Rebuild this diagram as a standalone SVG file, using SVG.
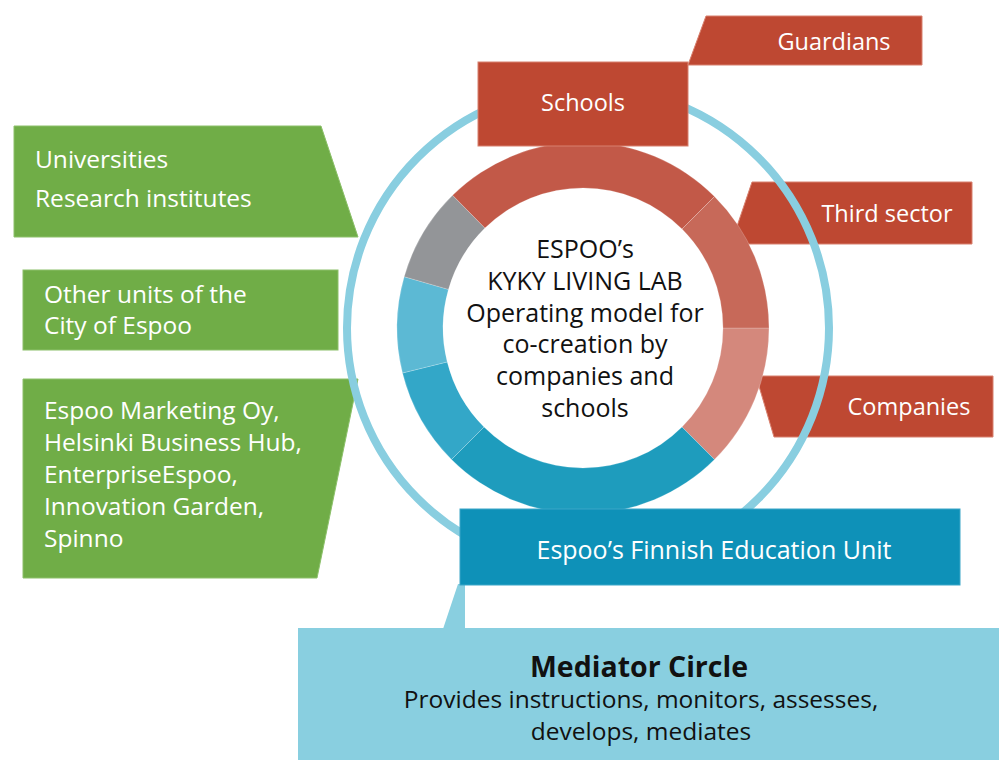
<svg xmlns="http://www.w3.org/2000/svg" width="999" height="760" viewBox="0 0 999 760">
  <style>
    .green { fill: #70AD47; stroke: #8CC06A; stroke-width: 1; }
    .red { fill: #BE4832; stroke: #D8806E; stroke-width: 1; }
    .lbl { font-family: "Open Sans", "Liberation Sans", sans-serif; fill: #ffffff; }
    .gl { font-size: 24.5px; }
    .rl { font-size: 23.5px; text-anchor: middle; }
    .ct { font-family: "Open Sans", "Liberation Sans", sans-serif; font-size: 25px; fill: #111111; text-anchor: middle; }
    .med { font-family: "Open Sans", "Liberation Sans", sans-serif; fill: #111111; text-anchor: middle; }
    .seg { stroke: #ffffff; stroke-opacity: 0.25; stroke-width: 0.8; }
  </style>
  <rect x="0" y="0" width="999" height="760" fill="#ffffff"/>

  <g id="universities">
    <polygon class="green" points="14,126 321,126 358,237 14,237"/>
    <text class="lbl gl" x="35" y="168">Universities</text>
    <text class="lbl gl" x="35" y="207">Research institutes</text>
  </g>
  <g id="other-units">
    <rect class="green" x="23" y="270" width="315" height="80"/>
    <text class="lbl gl" x="44" y="303">Other units of the</text>
    <text class="lbl gl" x="44" y="334">City of Espoo</text>
  </g>
  <g id="business">
    <polygon class="green" points="23,379 358,379 317,578 23,578"/>
    <text class="lbl gl" x="44" y="419">Espoo Marketing Oy,</text>
    <text class="lbl gl" x="44" y="451">Helsinki Business Hub,</text>
    <text class="lbl gl" x="44" y="483">EnterpriseEspoo,</text>
    <text class="lbl gl" x="44" y="515">Innovation Garden,</text>
    <text class="lbl gl" x="44" y="547">Spinno</text>
  </g>

  <g id="third-sector">
    <polygon class="red" points="752,182 972,182 972,244 731,244"/>
    <text class="lbl rl" x="887" y="222">Third sector</text>
  </g>
  <g id="companies">
    <polygon class="red" points="756,376 993,376 993,437 774,437"/>
    <text class="lbl rl" x="909" y="415">Companies</text>
  </g>

  <g id="mediator-ring">
    <circle cx="588" cy="328" r="241" fill="none" stroke="#89CEE0" stroke-width="8"/>
  </g>

  <g id="living-lab">
    <path class="seg" fill="#D4887C" d="M769,328 A186,186 0 0 1 714.5,459.5 L682,427 A140,140 0 0 0 723,328 Z"/>
    <path class="seg" fill="#1E9CBD" d="M714.5,459.5 A186,186 0 0 1 451.5,459.5 L484,427 A140,140 0 0 0 682,427 Z"/>
    <path class="seg" fill="#33A7C8" d="M451.5,459.5 A186,186 0 0 1 402.5,373 L447.2,361.9 A140,140 0 0 0 484,427 Z"/>
    <path class="seg" fill="#5CB9D4" d="M402.5,373 A186,186 0 0 1 404.2,276.7 L448.4,289.4 A140,140 0 0 0 447.2,361.9 Z"/>
    <path class="seg" fill="#939598" d="M404.2,276.7 A186,186 0 0 1 452.6,195.3 L484.9,228.1 A140,140 0 0 0 448.4,289.4 Z"/>
    <path class="seg" fill="#C25948" d="M452.6,195.3 A186,186 0 0 1 714.5,196.5 L682,229 A140,140 0 0 0 484.9,228.1 Z"/>
    <path class="seg" fill="#C76959" d="M714.5,196.5 A186,186 0 0 1 769,328 L723,328 A140,140 0 0 0 682,229 Z"/>
    <text class="ct" x="585" y="258">ESPOO’s</text>
    <text class="ct" x="585" y="290">KYKY LIVING LAB</text>
    <text class="ct" x="585" y="322">Operating model for</text>
    <text class="ct" x="585" y="353">co-creation by</text>
    <text class="ct" x="585" y="385">companies and</text>
    <text class="ct" x="585" y="417">schools</text>
  </g>

  <g id="schools">
    <rect class="red" x="478" y="62" width="210" height="84"/>
    <text class="lbl rl" x="583" y="111">Schools</text>
  </g>
  <g id="guardians">
    <polygon class="red" points="706,16 922,16 922,65 688,65"/>
    <text class="lbl rl" x="834" y="50">Guardians</text>
  </g>

  <g id="connectors">
    <polygon points="458,584 465,584 465,629 443,629" fill="#89CFE0"/>
  </g>

  <g id="finnish-unit">
    <rect x="460" y="509" width="500" height="76" fill="#0E91B8" stroke="#3AA6C8" stroke-width="1"/>
    <text class="lbl" x="714" y="559" font-size="25px" text-anchor="middle">Espoo’s Finnish Education Unit</text>
  </g>

  <g id="mediator-circle">
    <rect x="298" y="628" width="701" height="132" fill="#89CFE0"/>
    <text class="med" x="639" y="677" font-size="28.5px" font-weight="bold">Mediator Circle</text>
    <text class="med" x="641" y="708" font-size="24.5px">Provides instructions, monitors, assesses,</text>
    <text class="med" x="641" y="740" font-size="24.5px">develops, mediates</text>
  </g>
</svg>
